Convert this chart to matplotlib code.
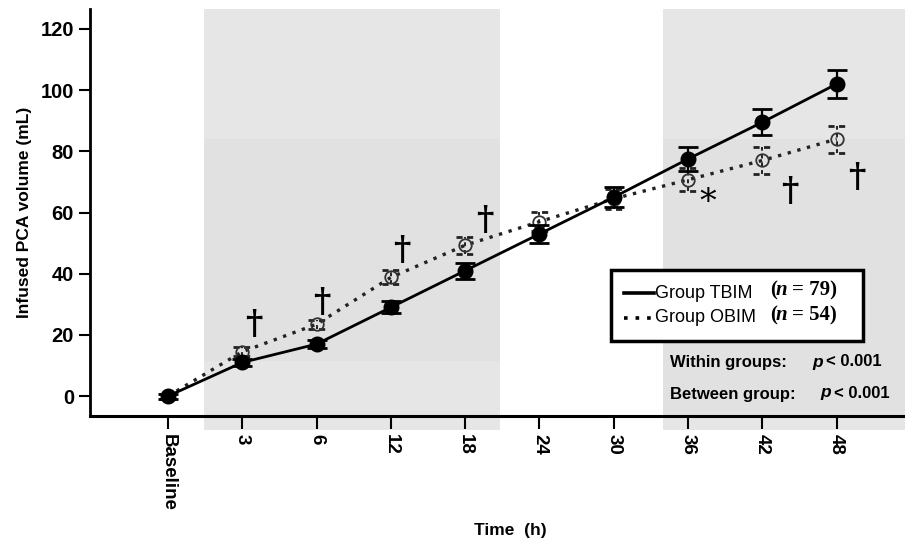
import numpy as np
import matplotlib.pyplot as plt
from matplotlib.patches import Rectangle
from matplotlib.lines import Line2D

# time points and group means / SE (mL)
times = ["Baseline", "3", "6", "12", "18", "24", "30", "36", "42", "48"]
tbim_mean = [0, 11, 17, 29, 41, 53, 65, 77.5, 89.5, 102]
tbim_err = [0.8, 1.2, 1.2, 2.0, 2.6, 3.0, 3.2, 4.0, 4.2, 4.5]
obim_mean = [0, 14.5, 23.5, 38.8, 49.3, 57, 64.5, 70.7, 77, 84]
obim_err = [0.8, 1.4, 1.5, 2.3, 2.8, 3.2, 3.2, 3.8, 4.3, 4.4]

# significance markers (x position, y position, symbol)
sig_x = [1.15, 2.07, 3.15, 4.27, 7.27, 8.37, 9.27]
sig_y = [23.5, 30.5, 47.5, 57.5, 63, 67, 71.5]
sig_sym = ["\u2020", "\u2020", "\u2020", "\u2020", "*", "\u2020", "\u2020"]

plt.rcParams['font.family'] = ['Liberation Sans', 'DejaVu Sans']

fig = plt.figure(figsize=(9.05, 5.44), dpi=100)
ax = fig.add_axes([90 / 905, 1 - 416 / 544, 1 - 90 / 905, (416 - 9) / 544])
x = np.arange(len(times))

ax.set_xlim(-1.05, 9.92)
ax.set_ylim(-6.5, 126.5)

# shaded time windows
shade = "#e6e6e6"
band = "#e1e1e1"
trans = ax.get_xaxis_transform()
for x0, x1 in [(0.48, 4.47), (6.66, 9.92)]:
    ax.add_patch(Rectangle((x0, -0.035), x1 - x0, 1.035, transform=trans,
                           facecolor=shade, edgecolor="none", clip_on=False, zorder=0))
ax.add_patch(Rectangle((0.48, 11.5), 3.99, 72.5, facecolor=band, edgecolor="none", zorder=0.5))
ax.add_patch(Rectangle((6.66, -6.5), 3.26, 90.5, facecolor=band, edgecolor="none", zorder=0.5))

# OBIM: dotted line, open circles, dashed error bars
eb = ax.errorbar(x, obim_mean, yerr=obim_err, fmt="none", ecolor="#222222",
                 elinewidth=1.4, capsize=0, zorder=2)
eb[2][0].set_linestyle((0, (2, 2)))
for i, (m, e) in enumerate(zip(obim_mean, obim_err)):
    for yy in (m - e, m + e):
        ax.plot([i - 0.12, i + 0.12], [yy, yy], color="#222222", lw=2,
                ls=(0, (2.2, 1.6)), zorder=2)
ax.plot(x, obim_mean, color="#222222", lw=2.4, ls=(0, (1, 2)), zorder=3)
ax.plot(x, obim_mean, ls="none", marker="o", ms=9, mfc="none", mec="#333333",
        mew=1.3, zorder=4)

# TBIM: solid line, filled circles
ax.errorbar(x, tbim_mean, yerr=tbim_err, fmt="none", ecolor="black",
            elinewidth=1.6, capsize=7.5, capthick=2, zorder=5)
ax.plot(x, tbim_mean, color="black", lw=2, marker="o", ms=10.5, mfc="black",
        mec="black", zorder=6)

for sx, sy, s in zip(sig_x, sig_y, sig_sym):
    if s == "*":
        ax.text(sx, sy, s, fontsize=24, family="DejaVu Serif", ha="center",
                va="center", zorder=7)
    else:
        ax.text(sx, sy, s, fontsize=24, family="DejaVu Serif", fontweight="bold",
                ha="center", va="center", zorder=7)

# axes styling
for side in ["top", "right"]:
    ax.spines[side].set_visible(False)
ax.spines["left"].set_linewidth(2)
ax.spines["bottom"].set_linewidth(2.2)
ax.set_yticks([0, 20, 40, 60, 80, 100, 120])
ax.set_xticks(x)
ax.set_xticklabels(times, rotation=270, fontsize=13.5, fontweight="bold")
ax.tick_params(axis="y", labelsize=14.5, length=8, width=1.5)
ax.tick_params(axis="x", length=9, width=1.5, pad=4)
for lab in ax.get_yticklabels():
    lab.set_fontweight("bold")
ax.set_ylabel("Infused PCA volume (mL)", fontsize=12.5, fontweight="bold", labelpad=6)
fig.text(510 / 905, 1 - 530 / 544, "Time  (h)", fontsize=12.5, fontweight="bold",
         ha="center", va="center")

# legend box
def fx(px):
    return px / 905

def fy(py):
    return 1 - py / 544

fig.patches.append(Rectangle((fx(611), fy(341)), fx(863) - fx(611), fy(270) - fy(341),
                             transform=fig.transFigure, facecolor="white",
                             edgecolor="black", lw=2.5, zorder=10))
fig.lines.append(Line2D([fx(624), fx(654)], [fy(293), fy(293)], transform=fig.transFigure,
                        color="black", lw=2.6, zorder=11))
fig.lines.append(Line2D([fx(624), fx(654)], [fy(318), fy(318)], transform=fig.transFigure,
                        color="black", lw=2.6, ls=(0, (1, 2.2)), zorder=11))
fig.text(fx(655), fy(293), "Group TBIM", fontsize=13, ha="left", va="center", zorder=12)
fig.text(fx(655), fy(318), "Group OBIM", fontsize=13, ha="left", va="center", zorder=12)
serif = dict(family="Liberation Serif", fontsize=15, fontweight="bold",
             ha="left", va="center", zorder=12)
for py, n in [(290, "79"), (315, "54")]:
    fig.text(fx(770), fy(py), "(", **serif)
    fig.text(fx(776), fy(py), "n", style="italic", **serif)
    fig.text(fx(792), fy(py), "= " + n + ")", **serif)

# test results
fig.text(fx(670), fy(363), "Within groups:", fontsize=12, fontweight="bold",
         ha="left", va="center")
fig.text(fx(812), fy(362), "p", fontsize=12.5, fontweight="bold", style="italic",
         ha="left", va="center")
fig.text(fx(826), fy(362), "< 0.001", fontsize=12, fontweight="bold",
         ha="left", va="center")
fig.text(fx(670), fy(394), "Between group:", fontsize=12, fontweight="bold",
         ha="left", va="center")
fig.text(fx(820), fy(393), "p", fontsize=12.5, fontweight="bold", style="italic",
         ha="left", va="center")
fig.text(fx(834), fy(393), "< 0.001", fontsize=12, fontweight="bold",
         ha="left", va="center")

fig.savefig("out.png", dpi=100)
